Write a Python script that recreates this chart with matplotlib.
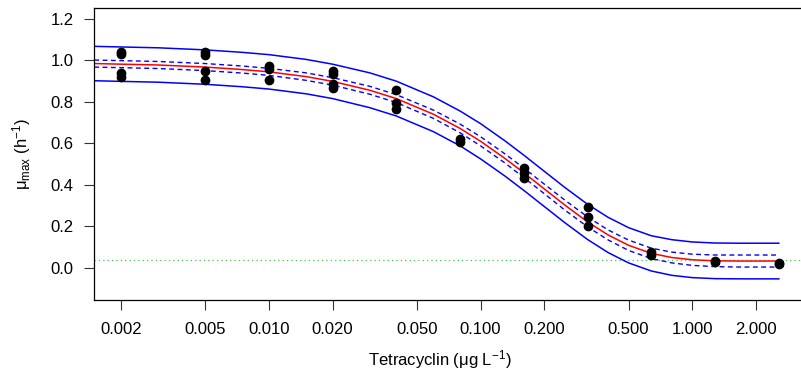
import matplotlib
matplotlib.use('Agg')
import matplotlib.pyplot as plt
import numpy as np

plt.rcParams['font.family'] = ['Liberation Sans', 'DejaVu Sans']
plt.rcParams['mathtext.fontset'] = 'custom'
plt.rcParams['mathtext.rm'] = 'Liberation Sans'
plt.rcParams['mathtext.it'] = 'Liberation Sans:italic'

# measured growth rates (replicates per dose)
dose = [0.002, 0.002, 0.002, 0.002,
        0.005, 0.005, 0.005, 0.005,
        0.01, 0.01, 0.01,
        0.02, 0.02, 0.02, 0.02,
        0.04, 0.04, 0.04,
        0.08, 0.08,
        0.16, 0.16, 0.16,
        0.32, 0.32, 0.32,
        0.64, 0.64,
        1.28, 1.28,
        2.56, 2.56]
mu = [1.04, 1.03, 0.94, 0.92,
      1.04, 1.025, 0.95, 0.905,
      0.975, 0.96, 0.905,
      0.95, 0.935, 0.885, 0.865,
      0.855, 0.795, 0.765,
      0.62, 0.605,
      0.48, 0.455, 0.435,
      0.295, 0.245, 0.20,
      0.076, 0.06,
      0.034, 0.029,
      0.021, 0.016]

# fitted curve
curve_x = [0.0015, 0.002, 0.003, 0.005, 0.0075, 0.01, 0.015, 0.02, 0.03, 0.04,
           0.06, 0.08, 0.1, 0.13, 0.16, 0.2, 0.25, 0.32, 0.4, 0.5,
           0.64, 0.8, 1.0, 1.28, 1.7, 2.56]
fit = [0.985, 0.982, 0.978, 0.968, 0.956, 0.945, 0.922, 0.899, 0.856, 0.816,
       0.740, 0.672, 0.610, 0.528, 0.458, 0.380, 0.302, 0.221, 0.158, 0.108,
       0.069, 0.049, 0.038, 0.033, 0.032, 0.032]
# half widths of confidence band (dashed) and prediction band (solid)
conf_hw = [0.017, 0.017, 0.017, 0.017, 0.017, 0.017, 0.018, 0.018, 0.019, 0.019,
           0.020, 0.021, 0.022, 0.022, 0.023, 0.023, 0.024, 0.024, 0.024, 0.025,
           0.025, 0.026, 0.027, 0.028, 0.029, 0.029]
pred_hw = [0.083, 0.083, 0.083, 0.083, 0.083, 0.083, 0.083, 0.083, 0.084, 0.084,
           0.084, 0.084, 0.085, 0.085, 0.085, 0.085, 0.085, 0.085, 0.085, 0.085,
           0.085, 0.086, 0.086, 0.086, 0.086, 0.086]
lower_limit = 0.036

xticks = [0.002, 0.005, 0.01, 0.02, 0.05, 0.1, 0.2, 0.5, 1, 2]
xtick_labels = ['0.002', '0.005', '0.010', '0.020', '0.050', '0.100', '0.200',
                '0.500', '1.000', '2.000']
yticks = [0.0, 0.2, 0.4, 0.6, 0.8, 1.0, 1.2]

W, H = 801, 379
fig = plt.figure(figsize=(W / 100, H / 100), dpi=100)
ax = fig.add_axes([94 / W, 1 - 300 / H, (806 - 94) / W, (300 - 8) / H])

fit_a = np.array(fit)
conf_a = np.array(conf_hw)
pred_a = np.array(pred_hw)

ax.axhline(lower_limit, color='#44c844', linestyle=(0, (1, 2.5)), linewidth=0.9)
ax.plot(curve_x, fit_a + pred_a, color='blue', linewidth=1.1)
ax.plot(curve_x, fit_a - pred_a, color='blue', linewidth=1.1)
ax.plot(curve_x, fit_a + conf_a, color='blue', linewidth=1.0, linestyle=(0, (3.5, 2.5)))
ax.plot(curve_x, fit_a - conf_a, color='blue', linewidth=1.0, linestyle=(0, (3.5, 2.5)))
ax.plot(curve_x, fit_a, color='red', linewidth=1.1)
ax.plot(dose, mu, 'o', color='black', markersize=6, zorder=5)

ax.set_xscale('log')
ax.set_xlim(0.001496, 3.44)
ax.set_ylim(-0.156, 1.253)
ax.set_xticks(xticks)
ax.set_xticklabels(xtick_labels)
ax.xaxis.set_minor_locator(matplotlib.ticker.NullLocator())
ax.set_yticks(yticks)
ax.set_yticklabels(['%.1f' % v for v in yticks])
ax.tick_params(axis='both', labelsize=12, length=7.5, width=0.8, color='#333333')
ax.tick_params(axis='x', pad=8)
ax.tick_params(axis='y', pad=7)
for s in ax.spines.values():
    s.set_linewidth(0.9)
    s.set_color('black')

fig.text(440 / W, 1 - 360 / H, 'Tetracyclin (\u03bcg L$^{-1}$)', fontsize=12,
         ha='center', va='center')
fig.text(22 / W, 1 - 154 / H, '\u03bc$_{\\mathrm{max}}$ (h$^{-1}$)', fontsize=12,
         ha='center', va='center', rotation=90)

fig.savefig('out.png', dpi=100)
